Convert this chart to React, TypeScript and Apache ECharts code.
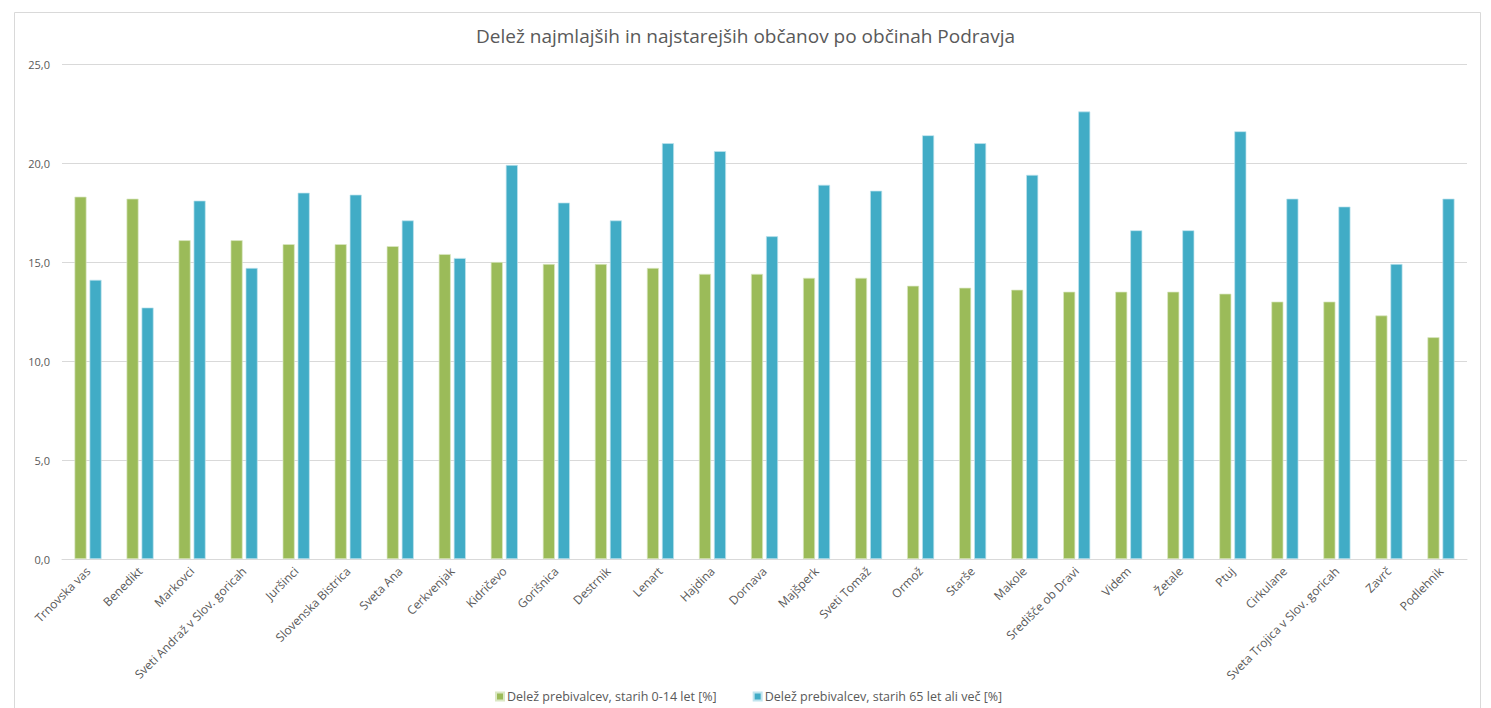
import React, { useEffect, useRef } from "react";
import * as echarts from "echarts";

const categories = [
  "Trnovska vas", "Benedikt", "Markovci", "Sveti Andraž v Slov. goricah", "Juršinci",
  "Slovenska Bistrica", "Sveta Ana", "Cerkvenjak", "Kidričevo", "Gorišnica", "Destrnik",
  "Lenart", "Hajdina", "Dornava", "Majšperk", "Sveti Tomaž", "Ormož", "Starše", "Makole",
  "Središče ob Dravi", "Videm", "Žetale", "Ptuj", "Cirkulane", "Sveta Trojica v Slov. goricah",
  "Zavrč", "Podlehnik",
];
const young = [
  18.3, 18.2, 16.1, 16.1, 15.9, 15.9, 15.8, 15.4, 15.0, 14.9, 14.9, 14.7, 14.4, 14.4,
  14.2, 14.2, 13.8, 13.7, 13.6, 13.5, 13.5, 13.5, 13.4, 13.0, 13.0, 12.3, 11.2,
];
const old = [
  14.1, 12.7, 18.1, 14.7, 18.5, 18.4, 17.1, 15.2, 19.9, 18.0, 17.1, 21.0, 20.6, 16.3,
  18.9, 18.6, 21.4, 21.0, 19.4, 22.6, 16.6, 16.6, 21.6, 18.2, 17.8, 14.9, 18.2,
];
const seriesNames = [
  "Delež prebivalcev, starih 0-14 let [%]",
  "Delež prebivalcev, starih 65 let ali več [%]",
];
const title = "Delež najmlajših in najstarejših občanov po občinah Podravja";

const FONT = "'Open Sans', 'Noto Sans', sans-serif";
const TXT = "#595959";

export default function App() {
  const ref = useRef<HTMLDivElement>(null);
  useEffect(() => {
    if (!ref.current) return;
    const chart = echarts.init(ref.current, undefined, { renderer: "svg" });
    chart.setOption({
      animation: false,
      backgroundColor: "#ffffff",
      textStyle: { fontFamily: FONT },
      title: {
        text: title,
        left: "center",
        top: 21,
        textStyle: { fontFamily: FONT, fontSize: 19, fontWeight: "normal", color: TXT },
      },
      graphic: [
        {
          type: "rect",
          shape: { x: 14.5, y: 12.5, width: 1466, height: 710 },
          style: { fill: "none", stroke: "#d9d9d9", lineWidth: 1 },
          silent: true,
        },
      ],
      legend: {
        top: 690,
        left: 495,
        padding: 0,
        itemWidth: 8,
        itemHeight: 8,
        itemGap: 36,
        icon: "rect",
        textStyle: { fontFamily: FONT, fontSize: 12.5, color: TXT, padding: [0, 0, 0, -2] },
        data: seriesNames,
      },
      grid: { left: 62, right: 24, top: 64, bottom: 149, containLabel: false },
      xAxis: {
        type: "category",
        data: categories,
        axisLine: { lineStyle: { color: "#d9d9d9" } },
        axisTick: { show: false },
        axisLabel: {
          rotate: 45,
          interval: 0,
          color: TXT,
          fontSize: 12,
          fontFamily: FONT,
          margin: 10,
        },
      },
      yAxis: {
        type: "value",
        min: 0,
        max: 25,
        interval: 5,
        axisLine: { show: false },
        axisTick: { show: false },
        splitLine: { lineStyle: { color: "#d9d9d9" } },
        axisLabel: {
          color: TXT,
          fontSize: 11,
          fontFamily: FONT,
          margin: 12,
          formatter: (v: number) => v.toFixed(1).replace(".", ","),
        },
      },
      series: [
        {
          name: seriesNames[0],
          type: "bar",
          data: young,
          barGap: "25%",
          barCategoryGap: "48%",
          itemStyle: { color: "#9BBB59", borderColor: "#dbe8c4", borderWidth: 0.7 },
        },
        {
          name: seriesNames[1],
          type: "bar",
          data: old,
          itemStyle: { color: "#41ACC6", borderColor: "#c0e4ee", borderWidth: 0.7 },
        },
      ],
    });
    return () => chart.dispose();
  }, []);
  return (
    <div
      ref={ref}
      style={{ position: "fixed", left: 0, top: 0, width: 1491, height: 708 }}
    />
  );
}
